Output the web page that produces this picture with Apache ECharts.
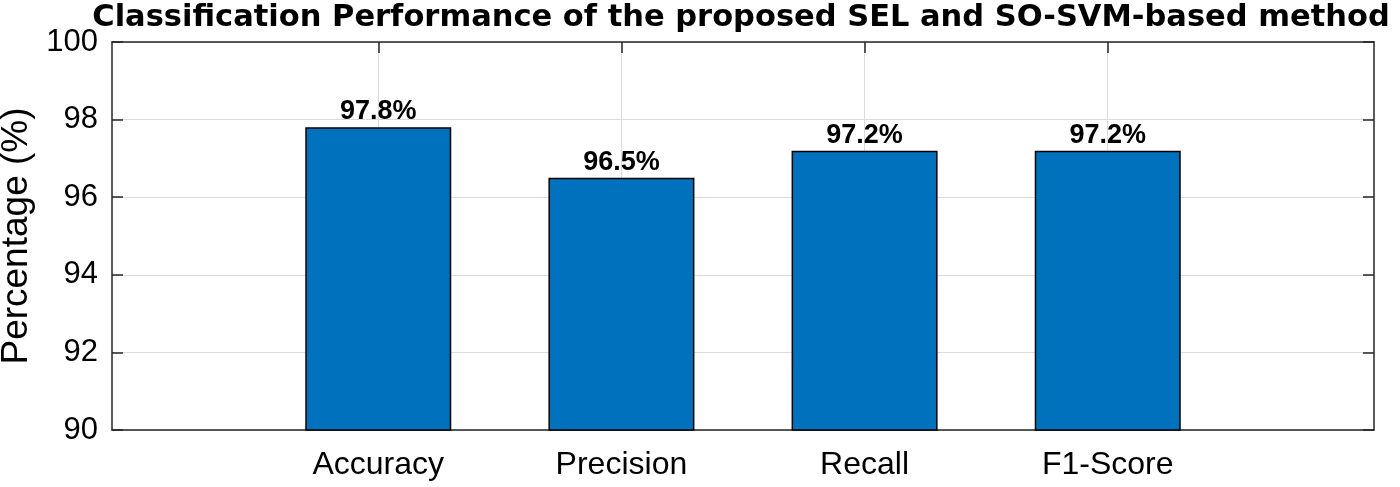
<!DOCTYPE html>
<html>
<head>
<meta charset="utf-8">
<script src="https://cdn.jsdelivr.net/npm/echarts@6/dist/echarts.min.js"></script>
<style>html,body{margin:0;padding:0;background:#fff;}#c{width:1400px;height:487px;}</style>
</head>
<body>
<div id="c"></div>
<script>
const categories = ['Accuracy', 'Precision', 'Recall', 'F1-Score'];
const values = [97.8, 96.5, 97.2, 97.2];
const yTicks = [90, 92, 94, 96, 98, 100];
const titleText = 'Classification Performance of the proposed SEL and SO-SVM-based method';
const yName = 'Percentage (%)';

const positions = categories.map((c, i) => i + 1);
const font = 'Liberation Sans, Arial, Helvetica, sans-serif';
const axisCol = '#262626';
const gridCol = '#dcdcdc';

const chart = echarts.init(document.getElementById('c'), null, {renderer: 'canvas'});
const xBase = {
  type: 'value', min: -0.095, max: 5.095,
  axisLine: {show: true, onZero: false, lineStyle: {color: axisCol, width: 1.5}},
};
const yBase = {
  type: 'value', min: yTicks[0], max: yTicks[yTicks.length - 1], interval: 2,
  axisLine: {show: true, onZero: false, lineStyle: {color: axisCol, width: 1.5}},
  axisTick: {show: true, inside: true, length: 11, lineStyle: {color: axisCol, width: 1.5}},
};
chart.setOption({
  animation: false,
  backgroundColor: '#fff',
  title: {
    text: titleText, left: 736, top: -2, textAlign: 'center',
    textStyle: {fontFamily: 'DejaVu Sans', fontWeight: 'bold', fontSize: 30.5, color: '#000'}
  },
  grid: {left: 112, right: 26, top: 42, bottom: 57, containLabel: false, outerBoundsMode: 'none'},
  xAxis: [
    Object.assign({}, xBase, {
      position: 'bottom',
      axisTick: {show: true, inside: true, length: 11, customValues: positions, lineStyle: {color: axisCol, width: 1.5}},
      axisLabel: {show: true, customValues: positions, margin: 19,
        formatter: v => categories[Math.round(v) - 1] || '',
        fontFamily: font, fontSize: 32, color: '#000'},
      splitLine: {show: true, lineStyle: {color: gridCol, width: 1}}
    }),
    Object.assign({}, xBase, {
      position: 'top',
      axisTick: {show: true, inside: true, length: 11, customValues: positions, lineStyle: {color: axisCol, width: 1.5}},
      axisLabel: {show: false},
      splitLine: {show: false}
    })
  ],
  yAxis: [
    Object.assign({}, yBase, {
      position: 'left',
      name: yName, nameLocation: 'middle', nameGap: 73,
      nameTextStyle: {fontFamily: font, fontSize: 37, color: '#000'},
      axisLabel: {show: true, margin: 14, fontFamily: font, fontSize: 31, color: '#000'},
      splitLine: {show: true, lineStyle: {color: gridCol, width: 1}}
    }),
    Object.assign({}, yBase, {
      position: 'right',
      axisLabel: {show: false},
      splitLine: {show: false}
    })
  ],
  series: [{
    type: 'bar',
    xAxisIndex: 0, yAxisIndex: 0,
    data: positions.map((p, i) => [p, values[i]]),
    barWidth: 146,
    itemStyle: {color: '#0072BD', borderColor: '#000', borderWidth: 1.5},
    label: {
      show: true, position: 'top', distance: 2,
      formatter: p => p.value[1].toFixed(1) + '%',
      fontFamily: font, fontWeight: 'bold', fontSize: 27, color: '#000'
    }
  }]
});
</script>
</body>
</html>
